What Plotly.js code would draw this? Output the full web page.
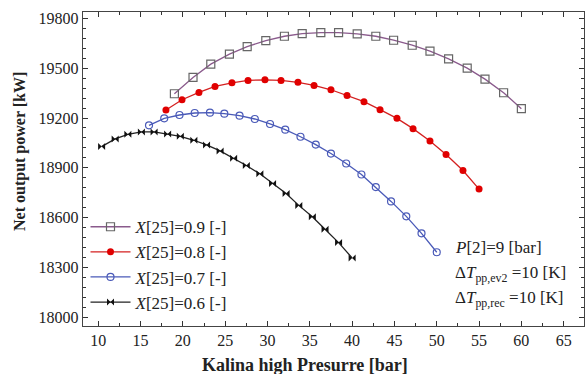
<!DOCTYPE html>
<html>
<head>
<meta charset="utf-8">
<script src="https://cdn.plot.ly/plotly-3.0.1.min.js"></script>
<style>html,body{margin:0;padding:0;background:#fff}#chart{width:587px;height:374px}</style>
</head>
<body>
<div id="chart"></div>
<script>
// Kalina high pressure [bar] and net output power [kW]
var p09 = [19, 21.2, 23.3, 25.5, 27.6, 29.8, 32.0, 34.1, 36.3, 38.4, 40.6, 42.8, 44.9, 47.1, 49.2, 51.4, 53.6, 55.7, 57.9, 60];
var w09 = [19346, 19444, 19524, 19584, 19630, 19666, 19692, 19708, 19714, 19714, 19706, 19692, 19668, 19638, 19602, 19556, 19500, 19434, 19352, 19256];

var p08 = [18, 19.9, 21.9, 23.8, 25.8, 27.7, 29.7, 31.6, 33.6, 35.5, 37.5, 39.4, 41.4, 43.3, 45.3, 47.2, 49.2, 51.1, 53.1, 55];
var w08 = [19248, 19310, 19354, 19390, 19412, 19426, 19430, 19426, 19415, 19396, 19370, 19336, 19298, 19250, 19198, 19136, 19062, 18980, 18884, 18772];

var p07 = [16, 17.8, 19.6, 21.4, 23.2, 24.9, 26.7, 28.5, 30.3, 32.1, 33.9, 35.7, 37.5, 39.3, 41.1, 42.8, 44.6, 46.4, 48.2, 50];
var w07 = [19156, 19198, 19218, 19230, 19232, 19226, 19214, 19194, 19164, 19130, 19087, 19040, 18986, 18926, 18860, 18784, 18698, 18608, 18506, 18392];

var p06 = [10.4, 12.0, 13.5, 15.1, 16.6, 18.2, 19.7, 21.3, 22.8, 24.4, 26.0, 27.5, 29.1, 30.6, 32.2, 33.7, 35.3, 36.8, 38.4, 40];
var w06 = [19028, 19074, 19102, 19116, 19116, 19104, 19090, 19066, 19038, 19002, 18958, 18914, 18864, 18806, 18746, 18674, 18606, 18530, 18450, 18358];

var seriesNames = ['<i>X</i>[25]=0.9 [-]', '<i>X</i>[25]=0.8 [-]', '<i>X</i>[25]=0.7 [-]', '<i>X</i>[25]=0.6 [-]'];
var xTickVals = [10, 15, 20, 25, 30, 35, 40, 45, 50, 55, 60, 65];
var yTickVals = [18000, 18300, 18600, 18900, 19200, 19500, 19800];
var xTitle = '<b>Kalina high Presurre [bar]</b>';
var yTitle = '<b>Net output power [kW]</b>';

var serif = 'Liberation Serif, Times New Roman, serif';

var traces = [
  {x: p09, y: w09, name: seriesNames[0], mode: 'lines+markers',
   line: {color: '#8a5a8c', width: 1.3},
   marker: {symbol: 'square-open', size: 8, color: '#666666', line: {width: 1.2}}},
  {x: p08, y: w08, name: seriesNames[1], mode: 'lines+markers',
   line: {color: '#d42020', width: 1.3},
   marker: {symbol: 'circle', size: 7, color: '#e00000'}},
  {x: p07, y: w07, name: seriesNames[2], mode: 'lines+markers',
   line: {color: '#4a5ab8', width: 1.3},
   marker: {symbol: 'circle-open', size: 7, color: '#4a5ab8', line: {width: 1.2}}},
  {x: p06, y: w06, name: seriesNames[3], mode: 'lines+markers',
   line: {color: '#222222', width: 1.3},
   marker: {symbol: 'bowtie', size: 7, color: '#111111'}}
];

var layout = {
  width: 587, height: 374,
  margin: {l: 83, r: 3, t: 12, b: 48},
  paper_bgcolor: '#ffffff', plot_bgcolor: '#ffffff',
  font: {family: serif, color: '#222'},
  showlegend: true,
  legend: {x: 0.005, y: 0.372, xanchor: 'left', yanchor: 'top', bgcolor: 'rgba(0,0,0,0)',
           font: {family: serif, size: 17, color: '#222'}, tracegroupgap: 0, itemwidth: 40},
  xaxis: {
    range: [8.2, 67.4], tickvals: xTickVals, ticks: 'inside', ticklen: 5, tickcolor: '#333',
    showline: true, linecolor: '#444', linewidth: 1.2, mirror: 'ticks', showgrid: false, zeroline: false,
    minor: {dtick: 2.5, tick0: 10, ticks: 'inside', ticklen: 3, tickcolor: '#333', showgrid: false},
    tickfont: {family: serif, size: 16, color: '#222'}
  },
  yaxis: {
    range: [17948, 19838], tickvals: yTickVals, tickformat: 'd', ticks: 'inside', ticklen: 5, tickcolor: '#333',
    showline: true, linecolor: '#444', linewidth: 1.2, mirror: 'ticks', showgrid: false, zeroline: false,
    minor: {dtick: 60, tick0: 18000, ticks: 'inside', ticklen: 3, tickcolor: '#333', showgrid: false},
    tickfont: {family: serif, size: 16, color: '#222'}
  },
  annotations: [
    {xref: 'paper', yref: 'paper', x: 0.443, y: -0.124, xanchor: 'center', yanchor: 'middle', showarrow: false,
     text: xTitle, font: {family: serif, size: 18, color: '#222'}},
    {xref: 'paper', yref: 'paper', x: -0.126, y: 0.557, xanchor: 'center', yanchor: 'middle', showarrow: false,
     textangle: -90, text: yTitle, font: {family: serif, size: 16, color: '#222'}},
    {xref: 'paper', yref: 'paper', x: 0.739, y: 0.25, xanchor: 'left', yanchor: 'middle', showarrow: false,
     text: '<i>P</i>[2]=9 [bar]', font: {family: serif, size: 17, color: '#222'}},
    {xref: 'paper', yref: 'paper', x: 0.739, y: 0.166, xanchor: 'left', yanchor: 'middle', showarrow: false,
     text: '\u0394<i>T</i><sub>pp,ev2</sub> =10 [K]', font: {family: serif, size: 17, color: '#222'}},
    {xref: 'paper', yref: 'paper', x: 0.739, y: 0.085, xanchor: 'left', yanchor: 'middle', showarrow: false,
     text: '\u0394<i>T</i><sub>pp,rec</sub> =10 [K]', font: {family: serif, size: 17, color: '#222'}}
  ]
};

Plotly.newPlot('chart', traces, layout, {displayModeBar: false, staticPlot: true});
</script>
</body>
</html>
